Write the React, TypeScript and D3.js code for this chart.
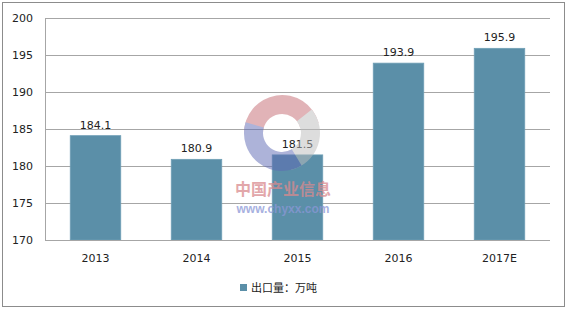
import React from "react";
import * as d3 from "d3";

const categories = ["2013", "2014", "2015", "2016", "2017E"];
const values = [184.1, 180.9, 181.5, 193.9, 195.9];
const yTicks = [170, 175, 180, 185, 190, 195, 200];
const seriesName = "出口量：万吨";

export default function App() {
  const W = 567, H = 310;
  const left = 45, right = 550, top = 18, bottom = 240;
  const x = d3.scaleBand<string>().domain(categories).range([left, right]).paddingInner(0.5).paddingOuter(0.25);
  const y = d3.scaleLinear().domain([170, 200]).range([bottom, top]);
  const font = "Tahoma, 'DejaVu Sans', 'Noto Sans CJK SC', sans-serif";
  const arc = d3.arc<any>();
  const cx = 282, cy = 133, ro = 38, ri = 19;
  return (
    <svg width={W} height={H} style={{ position: "absolute", left: 0, top: 0 }} fontFamily={font}>
      <rect x={0} y={0} width={W} height={H} fill="#fff" />
      <rect x={2.5} y={2.5} width={562} height={304} fill="#fff" stroke="#8c8c8c" strokeWidth={1} />
      {yTicks.map((t) => (
        <g key={t}>
          <line x1={left} x2={right} y1={Math.round(y(t)) + 0.5} y2={Math.round(y(t)) + 0.5} stroke="#a6a6a6" strokeWidth={1} />
          <text x={33} y={y(t) + 4} textAnchor="end" fontSize={11} fill="#222">{t}</text>
        </g>
      ))}
      <line x1={left + 0.5} x2={left + 0.5} y1={top} y2={bottom} stroke="#a6a6a6" />
      {categories.map((c, i) => (
        <g key={c}>
          <rect x={x(c)} y={y(values[i])} width={x.bandwidth()} height={bottom - y(values[i])} fill="#5b8fa8" stroke="#6f9fb5" strokeWidth={0.8} />
          <text x={(x(c) || 0) + x.bandwidth() / 2} y={y(values[i]) - 7} textAnchor="middle" fontSize={11} fill="#222">{values[i].toFixed(1)}</text>
          <text x={(x(c) || 0) + x.bandwidth() / 2} y={262} textAnchor="middle" fontSize={11} fill="#222">{c}</text>
        </g>
      ))}
      <line x1={left} x2={right} y1={bottom + 0.5} y2={bottom + 0.5} stroke="#a6a6a6" />
      {/* watermark */}
      <g opacity={0.5}>
        <path transform={`translate(${cx},${cy})`} d={arc({ innerRadius: ri, outerRadius: ro, startAngle: -1.6, endAngle: 1.3 }) || ""} fill="#c46a72" />
        <path transform={`translate(${cx},${cy})`} d={arc({ innerRadius: ri, outerRadius: ro, startAngle: 0.9, endAngle: 2.9 }) || ""} fill="#bdbdbd" />
        <path transform={`translate(${cx},${cy})`} d={arc({ innerRadius: ri, outerRadius: ro, startAngle: 2.6, endAngle: 5.0 }) || ""} fill="#5e69b4" />
      </g>
      <text x={283} y={195} textAnchor="middle" fontSize={16} fontWeight="bold" fill="#d98a8e" opacity={0.75} fontFamily="'Noto Sans CJK SC', sans-serif">中国产业信息</text>
      <text x={283} y={213} textAnchor="middle" fontSize={12} fontWeight="bold" fill="#8a97d6" opacity={0.75} fontFamily="Arial, 'Liberation Sans', sans-serif">www.chyxx.com</text>
      <rect x={240} y={284} width={7} height={7} fill="#5b8fa8" />
      <text x={251} y={292} fontSize={11} fill="#222" fontFamily="'Noto Sans CJK SC', sans-serif">{seriesName}</text>
    </svg>
  );
}
